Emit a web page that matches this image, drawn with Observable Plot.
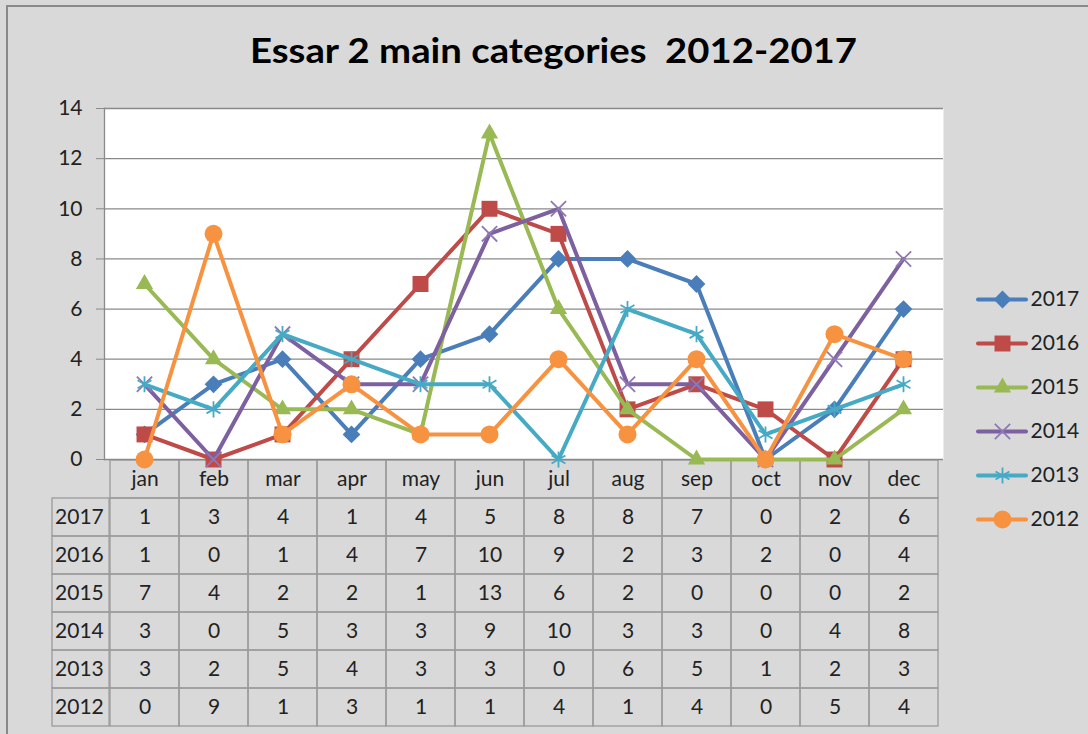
<!DOCTYPE html>
<html><head><meta charset="utf-8">
<script src="https://cdn.jsdelivr.net/npm/d3@7"></script>
<script src="https://cdn.jsdelivr.net/npm/@observablehq/plot@0.6"></script>
<style>
html,body{margin:0;padding:0;background:#fff;}
#wrap{position:relative;width:1088px;height:734px;background:#d9d9d9;overflow:hidden;font-family:Lato,"Open Sans",sans-serif;}
#wrap svg{position:absolute;background:transparent;overflow:visible}
#title{position:absolute;top:28px;font-weight:700;font-size:35px;white-space:pre;color:#000;transform-origin:0 0;line-height:42px}
#border{position:absolute;left:6px;top:5px;width:1100px;height:740px;border:2px solid #8a8a8a;box-sizing:border-box}
</style></head>
<body><div id="wrap"><div id="border"></div><span id="title"></span></div>
<script>
// ---- data ----
const months = ["jan","feb","mar","apr","may","jun","jul","aug","sep","oct","nov","dec"];
const years = ["2017","2016","2015","2014","2013","2012"];
const v2017 = [1,3,4,1,4,5,8,8,7,0,2,6];
const v2016 = [1,0,1,4,7,10,9,2,3,2,0,4];
const v2015 = [7,4,2,2,1,13,6,2,0,0,0,2];
const v2014 = [3,0,5,3,3,9,10,3,3,0,4,8];
const v2013 = [3,2,5,4,3,3,0,6,5,1,2,3];
const v2012 = [0,9,1,3,1,1,4,1,4,0,5,4];
const yTicks = [0,2,4,6,8,10,12,14];
const title = "Essar 2 main categories  2012-2017";

// ---- styles ----
const seriesValues = [v2017, v2016, v2015, v2014, v2013, v2012];
const colors = ["#4A7EBB","#BE4B48","#98B954","#7D60A0","#46AAC5","#F69240"];
const markColors = ["#4A7EBB","#BE4B48","#98B954","#8F78B5","#46AAC5","#F69240"];
const symbols = ["diamond2","square","triangle","times","asterisk","circle"];
const radii = [8,9,6.4,7,7.6,9];
const filled = [true,true,true,false,false,true];
const FONT = "Lato, 'Open Sans', sans-serif";
const TXT = 21;

const rows = years.flatMap((yr, i) => months.map((m, j) => ({year: yr, month: m, value: seriesValues[i][j]})));

const wrap = document.getElementById("wrap");

// ---- title (real text, fitted to reference width) ----
const t = document.getElementById("title");
t.textContent = title;
const tw = t.getBoundingClientRect().width;
const targetW = 607;
t.style.left = "250px";
t.style.transform = `scaleX(${targetW / tw})`;

// ---- table (drawn underneath) ----
const tableRows = ["", ...years];
const colW = (943 - 104) / 12;
const table = Plot.plot({
  width: 1088, height: 734,
  marginLeft: 104, marginRight: 145, marginTop: 459, marginBottom: 8,
  style: {background: "transparent", fontFamily: FONT, fontSize: TXT + "px", color: "#222"},
  x: {type: "band", domain: months, padding: 0, axis: null},
  y: {type: "band", domain: tableRows, padding: 0, axis: null},
  marks: [
    Plot.cell(rows, {x: "month", y: "year", fill: "none", stroke: "#9a9a9a", strokeWidth: 1.3}),
    Plot.cell(months, {x: d => d, y: () => "", fill: "none", stroke: "#9a9a9a", strokeWidth: 1.3}),
    Plot.cell(years, {x: () => "jan", y: d => d, dx: -colW, insetLeft: colW - 58, fill: "none", stroke: "#9a9a9a", strokeWidth: 1.3}),
    Plot.text(rows, {x: "month", y: "year", text: d => String(d.value), fill: "#222", fontSize: TXT}),
    Plot.text(months, {x: d => d, y: () => "", text: d => d, fill: "#222", fontSize: TXT}),
    Plot.text(years, {x: () => "jan", y: d => d, dx: -colW/2 - 55, textAnchor: "start", text: d => d, fill: "#222", fontSize: TXT})
  ]
});
table.style.left = "0px"; table.style.top = "0px";
wrap.appendChild(table);

// ---- chart ----
const seriesMarks = years.flatMap((yr, i) => {
  const data = rows.filter(d => d.year === yr);
  return [
    Plot.line(data, {x: "month", y: "value", stroke: colors[i], strokeWidth: 4, strokeLinejoin: "round", strokeLinecap: "round"}),
    Plot.dot(data, {x: "month", y: "value", symbol: () => symbols[i], r: radii[i],
      fill: filled[i] ? markColors[i] : "none", stroke: filled[i] ? "none" : markColors[i], strokeWidth: filled[i] ? 0 : 1.8})
  ];
});

const chart = Plot.plot({
  width: 1088, height: 734,
  marginLeft: 104, marginRight: 145, marginTop: 108, marginBottom: 275,
  style: {background: "transparent", fontFamily: FONT, fontSize: TXT + "px", color: "#222"},
  x: {type: "point", domain: months, padding: 0.5, axis: null},
  y: {domain: [0, 14], axis: null},
  symbol: {type: "identity"},
  marks: [
    Plot.frame({fill: "white", stroke: null}),
    Plot.gridY(yTicks, {stroke: "#8a8a8a", strokeOpacity: 1, strokeWidth: 1.3}),
    Plot.frame({anchor: "left", stroke: "#8a8a8a", strokeWidth: 1.3}),
    Plot.axisY(yTicks, {tickSize: 8, tickPadding: 14, stroke: "#8a8a8a", fill: "#222", fontSize: TXT, label: null, tickFormat: d => String(d)}),
    ...seriesMarks
  ]
});
chart.style.left = "0px"; chart.style.top = "0px";
wrap.appendChild(chart);

// ---- legend ----
const legend = Plot.plot({
  width: 113, height: 260, margin: 0,
  style: {background: "transparent", fontFamily: FONT, fontSize: TXT + "px", color: "#222", overflow: "visible"},
  x: {domain: [0, 113], range: [0, 113], axis: null},
  y: {type: "point", domain: years, range: [18, 240], padding: 0, axis: null},
  symbol: {type: "identity"},
  marks: [
    ...years.map((yr, i) => Plot.ruleY([yr], {y: d => d, x1: 3, x2: 51, stroke: colors[i], strokeWidth: 4, strokeLinecap: "round"})),
    ...years.map((yr, i) => Plot.dot([yr], {x: 27, y: d => d, symbol: () => symbols[i], r: radii[i],
      fill: filled[i] ? markColors[i] : "none", stroke: filled[i] ? "none" : markColors[i], strokeWidth: filled[i] ? 0 : 1.8})),
    Plot.text(years, {x: 55, y: d => d, text: d => d, textAnchor: "start", fill: "#222", fontSize: TXT})
  ]
});
legend.style.left = "975px"; legend.style.top = "280px";
wrap.appendChild(legend);
</script>
</body></html>
